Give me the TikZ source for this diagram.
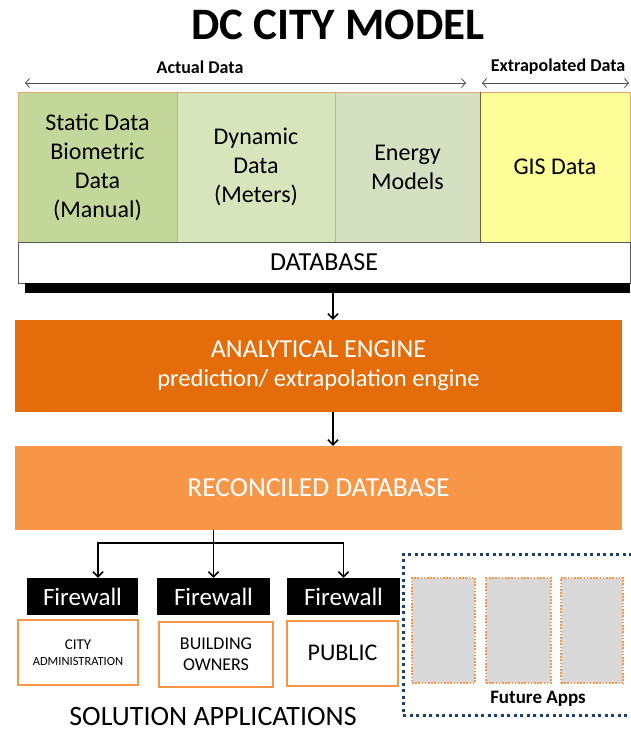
\documentclass[tikz,border=0pt]{standalone}
\usepackage{fontspec}
\setmainfont{Carlito}
\usepackage{tikz}
\usetikzlibrary{arrows.meta}

\definecolor{staticgreen}{HTML}{C4D79B}
\definecolor{dyngreen}{HTML}{D8E4BC}
\definecolor{energygreen}{HTML}{D5DFC2}
\definecolor{gisyellow}{HTML}{FFFF99}
\definecolor{celledge}{HTML}{E2A873}
\definecolor{engineorange}{HTML}{E46C0A}
\definecolor{recorange}{HTML}{F79646}
\definecolor{futureblue}{HTML}{1F3F6E}
\definecolor{futuregrey}{HTML}{D9D9D9}

\begin{document}
\begin{tikzpicture}[x=1pt, y=-1pt,
flow/.style={-{Straight Barb[length=5pt,width=10pt]}, line width=1.6pt},
span/.style={{Straight Barb[length=4pt,width=9pt]}-{Straight Barb[length=4pt,width=9pt]}, line width=0.8pt, gray!60!black},
cell/.style={draw=celledge, line width=0.8pt, minimum height=150pt, inner sep=0pt,
  align=center, font=\fontsize{24}{29}\selectfont},
bigbar/.style={minimum width=607pt, inner sep=0pt, align=center, text=white},
firewall/.style={fill=black, text=white, minimum height=37pt, inner sep=0pt,
  font=\fontsize{25}{30}\selectfont},
appbox/.style={draw=recorange, line width=2pt, fill=white, minimum height=65pt,
  inner sep=0pt, align=center},
futurebox/.style={draw=recorange, fill=futuregrey, line width=1.6pt,
  dash pattern=on 1.6pt off 1.6pt, minimum height=105pt, inner sep=0pt}]

\useasboundingbox (0,0) rectangle (630,735);

\node (title) at (338,25) {\bfseries\fontsize{45}{54}\selectfont DC CITY MODEL};

% data sources
\node (actual) at (200,67) {\bfseries\fontsize{18}{22}\selectfont Actual Data};
\node (extra) at (558,67) {\bfseries\fontsize{18}{22}\selectfont Extrapolated Data};
\coordinate (actL) at (25,83);
\coordinate (actR) at (466,83);
\coordinate (extL) at (482,83);
\coordinate (extR) at (629,83);
\draw[span] (actL) -- (actR);
\draw[span] (extL) -- (extR);

\node[cell, fill=staticgreen, minimum width=159pt] (static) at (97.5,167)
  {Static Data\\Biometric\\Data\\(Manual)};
\node[cell, fill=dyngreen, minimum width=158pt] (dynamic) at (256,167)
  {Dynamic\\Data\\(Meters)};
\node[cell, fill=energygreen, minimum width=145pt] (energy) at (407.5,167)
  {Energy\\Models};
\node[cell, fill=gisyellow, minimum width=150pt] (gis) at (555,167) {GIS Data};
\draw[brown!70!black, line width=0.8pt] (energy.north east) -- (energy.south east);

\node[draw=gray!70!black, fill=white, minimum width=612pt, minimum height=41pt,
  inner sep=0pt, font=\fontsize{26}{31}\selectfont] (db) at (324,262.5) {DATABASE};
\fill[black] ([xshift=7pt]db.south west) rectangle ([yshift=-10pt]db.south east);

% engine
\node[bigbar, fill=engineorange, minimum height=92pt, font=\fontsize{26}{29}\selectfont]
  (engine) at (318.5,366) {ANALYTICAL ENGINE\\
   \fontsize{24.5}{29}\selectfont prediction/ extrapolation engine};
\node[bigbar, fill=recorange, minimum height=84pt,
  font=\fontsize{27.5}{32}\selectfont] (recon) at (318.5,488) {RECONCILED DATABASE};

\coordinate (dbout) at (333,293);
\draw[flow] (dbout) -- (dbout |- engine.north);
\draw[flow] (engine.south -| dbout) -- (recon.north -| dbout);

% applications
\node[firewall, minimum width=111pt] (fw1) at (82.5,596.5) {Firewall};
\node[firewall, minimum width=113pt] (fw2) at (213.5,596.5) {Firewall};
\node[firewall, minimum width=113pt] (fw3) at (343.5,596.5) {Firewall};

\coordinate (branch) at (213.5,543);
\draw[line width=1.6pt] (recon.south -| branch) -- (branch);
\draw[flow] (branch) -| ([xshift=15.5pt]fw1.north);
\draw[flow] (branch) -- (fw2.north);
\draw[flow] (branch) -| (fw3.north);

\node[appbox, minimum width=120pt] (city) at (78,652.5)
  {\fontsize{15}{18}\selectfont CITY\\[4pt]\fontsize{12.5}{14}\selectfont ADMINISTRATION};
\node[appbox, minimum width=114pt, font=\fontsize{18}{21}\selectfont] (owners) at (216,654.5)
  {BUILDING\\OWNERS};
\node[appbox, minimum width=111pt, font=\fontsize{24}{28}\selectfont] (public) at (342.5,653)
  {PUBLIC};

\node[font=\fontsize{28}{33}\selectfont] (solution) at (213,717) {SOLUTION APPLICATIONS};

% future apps
\node[draw=futureblue, line width=3pt, dash pattern=on 3pt off 3.5pt,
  minimum width=229pt, minimum height=161pt, inner sep=0pt] (future) at (517.5,634.5) {};
\node[futurebox, minimum width=63pt] (fa1) at (443.5,630.5) {};
\node[futurebox, minimum width=65pt] (fa2) at (518.5,630.5) {};
\node[futurebox, minimum width=62pt] (fa3) at (592,630.5) {};
\node[font=\bfseries\fontsize{19}{23}\selectfont] (futurelabel) at (538,699) {Future Apps};
\end{tikzpicture}
\end{document}
